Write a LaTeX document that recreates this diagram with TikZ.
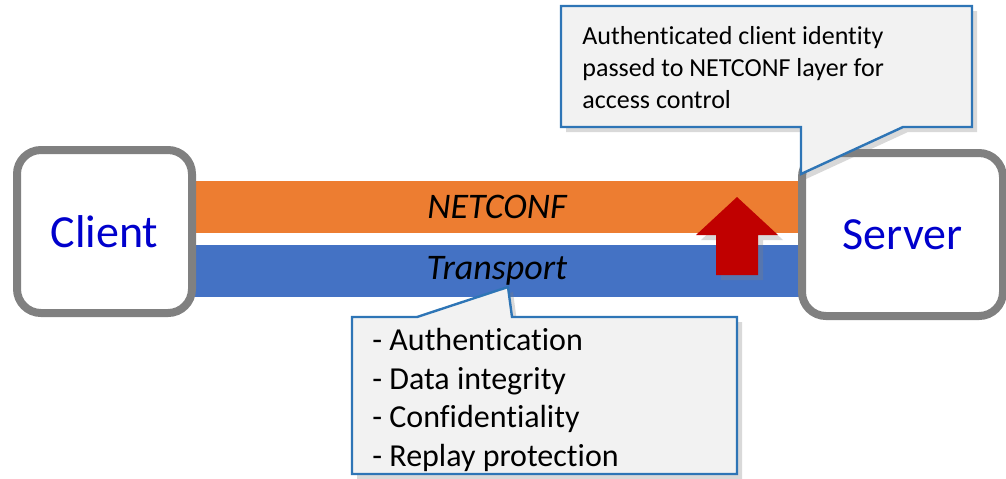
\documentclass[tikz,border=0pt]{standalone}
\usepackage{fontspec}
\setmainfont{Carlito}[Ligatures = {NoCommon}]
\usetikzlibrary{shadows}
\definecolor{ncorange}{HTML}{ED7D31}
\definecolor{trblue}{HTML}{4472C4}
\definecolor{noteblue}{HTML}{2E75B6}
\definecolor{notefill}{HTML}{F2F2F2}
\definecolor{upred}{HTML}{C00000}
\definecolor{hostblue}{HTML}{0000CC}
\definecolor{hostgray}{HTML}{808080}
\tikzset{
    host/.style = {draw = hostgray, line width = 4pt, rounded corners = 12pt, fill = white,
                   text = hostblue, font = \fontsize{23}{28}\selectfont, inner sep = 0pt},
    layer/.style = {minimum width = 305pt, minimum height = 26pt, inner sep = 0pt,
                    font = \fontsize{18}{22}\selectfont\itshape},
    note/.style = {draw = noteblue, line width = 1.2pt, fill = notefill, line join = miter,
                   drop shadow = {shadow xshift = 2.5pt, shadow yshift = -2.5pt, opacity = 0.3}},
    notetext/.style = {anchor = west, align = left, inner sep = 0pt}
}
\begin{document}
\begin{tikzpicture}[x = 0.5pt, y = -0.5pt]
    \useasboundingbox (0, 0) rectangle (1006, 478);
    % protocol layers
    \node[layer, fill = ncorange] (netconf) at (497, 207) {NETCONF};
    \node[layer, fill = trblue] (transport) at (497, 271) {\raisebox{-1.5pt}{Transport}};
    % end points
    \node[host, minimum width = 87.5pt, minimum height = 81.5pt] (client) at (104.5, 231.5) {Client};
    \node[host, minimum width = 100.5pt, minimum height = 81.5pt] (server) at (902.5, 234.5) {Server};
    % identity handed upwards
    \fill[upred, drop shadow = {shadow xshift = 2.5pt, shadow yshift = -2.5pt, opacity = 0.3}]
        (737, 197) -- (778, 235) -- (758, 235) -- (758, 275) -- (716, 275) -- (716, 235) -- (696, 235) -- cycle;
    % callouts
    \draw[note] (561, 6) -- (972, 6) -- (972, 127) -- (903, 127) -- (801, 174) -- (801, 127) -- (561, 127) -- cycle;
    \node[notetext, font = \fontsize{13}{16}\selectfont] (idnote) at (582, 68)
        {Authenticated client identity\\passed to NETCONF layer for\\access control};
    \draw[note] (352, 317) -- (417, 317) -- (508, 287) -- (512, 317) -- (737, 317) -- (737, 474) -- (352, 474) -- cycle;
    \node[notetext, font = \fontsize{16}{19.2}\selectfont] (secnote) at (372, 400)
        {- Authentication\\- Data integrity\\- Confidentiality\\- Replay protection};
\end{tikzpicture}
\end{document}
